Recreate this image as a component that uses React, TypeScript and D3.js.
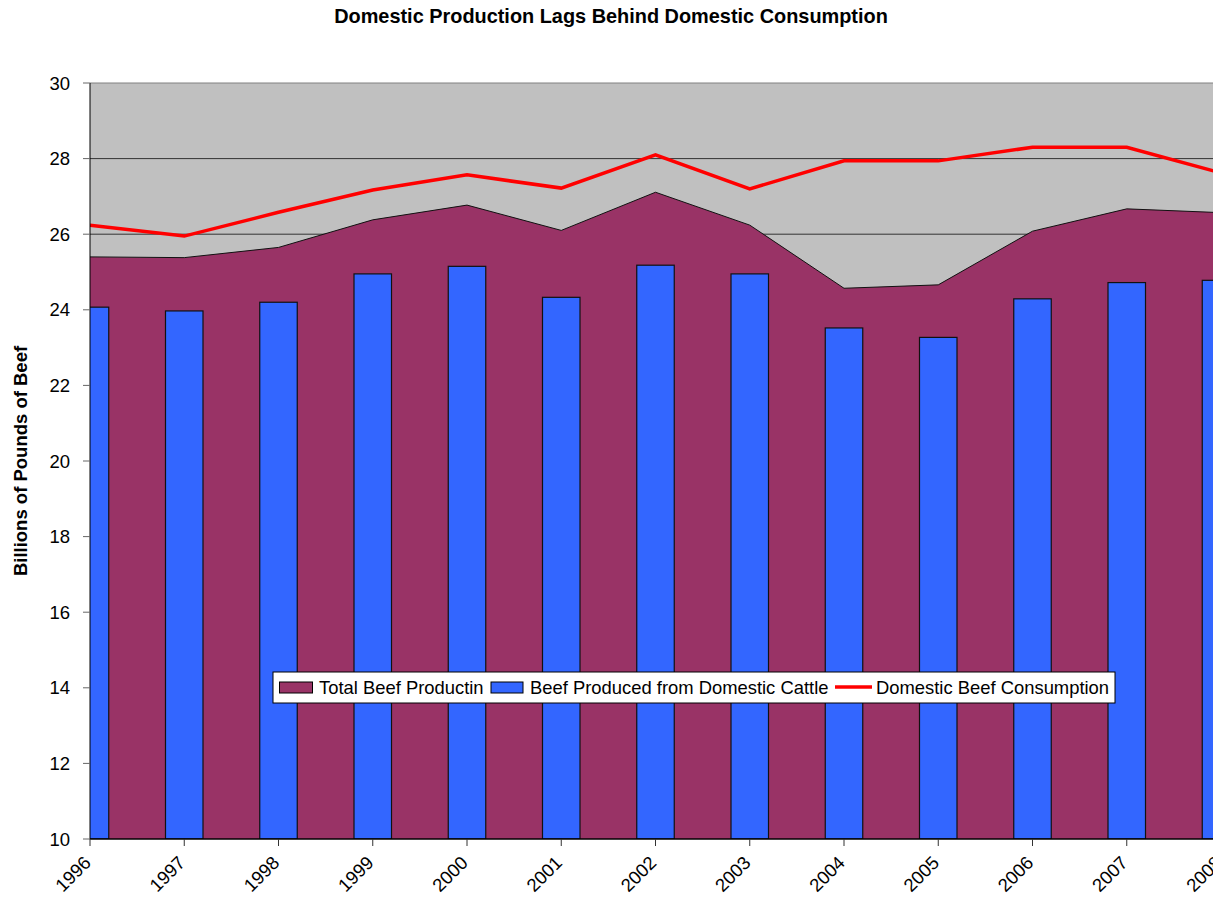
import React from 'react';
import * as d3 from 'd3';

const years = ['1996','1997','1998','1999','2000','2001','2002','2003','2004','2005','2006','2007','2008'];
const totalProduction = [25.40, 25.38, 25.65, 26.38, 26.77, 26.10, 27.11, 26.24, 24.57, 24.66, 26.08, 26.67, 26.57];
const domesticCattle = [24.07, 23.97, 24.20, 24.95, 25.15, 24.33, 25.18, 24.95, 23.52, 23.27, 24.29, 24.72, 24.78];
const consumption = [26.24, 25.95, 26.58, 27.17, 27.57, 27.22, 28.10, 27.20, 27.94, 27.94, 28.30, 28.30, 27.62];
const yTicks = [10, 12, 14, 16, 18, 20, 22, 24, 26, 28, 30];
const legendLabels = ['Total Beef Productin', 'Beef Produced from Domestic Cattle', 'Domestic Beef Consumption'];

const W = 1213, H = 900;
const left = 90, right = 1221, top = 83, bottom = 839;
const FONT = 'Liberation Sans, Arial, sans-serif';

export default function App() {
  const x = d3.scalePoint<string>().domain(years).range([left, right]);
  const y = d3.scaleLinear().domain([10, 30]).range([bottom, top]);
  const barW = 37.5;

  const area = d3.area<number>().x((_, i) => x(years[i])!).y0(y(10)).y1(d => y(d));
  const topLine = d3.line<number>().x((_, i) => x(years[i])!).y(d => y(d));
  const consLine = d3.line<number>().x((_, i) => x(years[i])!).y(d => y(d));

  return (
    <svg width={W} height={H} style={{ position: 'absolute', left: 0, top: 0, background: '#fff' }} fontFamily={FONT}>
      <defs>
        <clipPath id="plot"><rect x={left} y={top} width={right - left} height={bottom - top} /></clipPath>
      </defs>
      <text x={611} y={23} textAnchor="middle" fontWeight="bold" fontSize={19.9}>Domestic Production Lags Behind Domestic Consumption</text>

      <rect x={left} y={top} width={right - left} height={bottom - top} fill="#C0C0C0" />
      {yTicks.filter(t => t > 10).map(t => (
        <line key={t} x1={left} x2={right} y1={y(t)} y2={y(t)} stroke={t === 30 ? '#808080' : '#333'} strokeWidth={1} />
      ))}
      <g clipPath="url(#plot)">
        <path d={area(totalProduction)!} fill="#993366" />
        <path d={topLine(totalProduction)!} fill="none" stroke="#111" strokeWidth={1} />
        {domesticCattle.map((v, i) => (
          <rect key={i} x={x(years[i])! - barW / 2} y={y(v)} width={barW} height={y(10) - y(v)} fill="#3366FF" stroke="#111" strokeWidth={1.2} />
        ))}
        <path d={consLine(consumption)!} fill="none" stroke="#FF0000" strokeWidth={3.5} strokeLinejoin="miter" />
      </g>

      <line x1={left} x2={left} y1={top} y2={bottom} stroke="#000" />
      <line x1={left} x2={right} y1={bottom} y2={bottom} stroke="#000" strokeWidth={1.5} />
      {yTicks.map(t => (
        <g key={t}>
          <line x1={left - 7} x2={left} y1={y(t)} y2={y(t)} stroke="#666" />
          <text x={70} y={y(t) + 6.5} textAnchor="end" fontSize={18.5}>{t}</text>
        </g>
      ))}
      {years.map(yr => (
        <g key={yr}>
          <line x1={x(yr)} x2={x(yr)} y1={bottom} y2={bottom + 7} stroke="#333" />
          <text transform={`translate(${x(yr)! + 2},${bottom + 25}) rotate(-45)`} textAnchor="end" fontSize={18.5}>{yr}</text>
        </g>
      ))}
      <text transform={`translate(27,461) rotate(-90)`} textAnchor="middle" fontWeight="bold" fontSize={18.5}>Billions of Pounds of Beef</text>

      <g>
        <rect x={273} y={672} width={842} height={31} fill="#fff" stroke="#000" strokeWidth={1} />
        <rect x={279.5} y={682} width={33} height={11} fill="#993366" stroke="#000" />
        <text x={319} y={694} fontSize={18.4}>{legendLabels[0]}</text>
        <rect x={491} y={682} width={32} height={11} fill="#3366FF" stroke="#000" />
        <text x={530} y={694} fontSize={18.4}>{legendLabels[1]}</text>
        <line x1={835} x2={872} y1={687} y2={687} stroke="#FF0000" strokeWidth={3.5} />
        <text x={876} y={694} fontSize={18.4}>{legendLabels[2]}</text>
      </g>
    </svg>
  );
}
